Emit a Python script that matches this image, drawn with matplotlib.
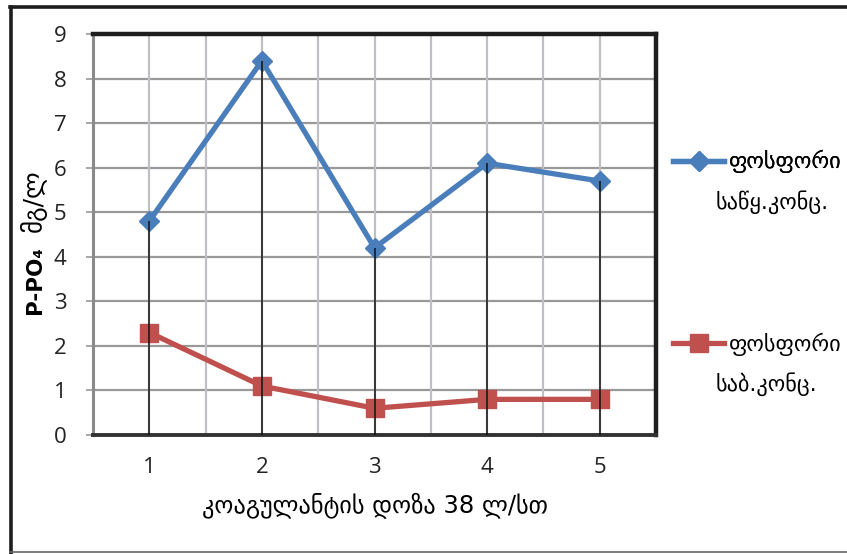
import matplotlib
matplotlib.use("Agg")
import matplotlib.pyplot as plt
from matplotlib.lines import Line2D
import numpy as np

# coagulant dose groups and phosphate concentrations (mg/l)
doses = [1, 2, 3, 4, 5]
initial_conc = [4.8, 8.4, 4.2, 6.1, 5.7]
final_conc = [2.3, 1.1, 0.6, 0.8, 0.8]

blue = "#4A7EBB"
red = "#C0504D"

plt.rcParams['font.family'] = ['DejaVu Sans']

fig = plt.figure(figsize=(8.47, 5.54), dpi=100)
ax = fig.add_axes([0.1098, 0.2148, 0.6647, 0.7238])

# grid: horizontal every 1, vertical every half category
for yv in range(0, 10):
    ax.axhline(yv, color="#999999", lw=1.6, zorder=0)
for xv in np.arange(0.5, 5.51, 0.5):
    ax.axvline(xv, color="#C0C0C4", lw=1.6, zorder=0)

ax.plot(doses, initial_conc, color=blue, lw=3.8, marker="D", ms=10, zorder=3)
ax.plot(doses, final_conc, color=red, lw=3.8, marker="s", ms=13, zorder=3)

# drop lines from the higher series to the axis
ax.vlines(doses, 0, initial_conc, color="#111111", lw=1.1, zorder=4)

ax.set_xlim(0.5, 5.5)
ax.set_ylim(0, 9)
ax.set_xticks(doses)
ax.set_yticks(range(0, 10))
ax.tick_params(axis="x", length=0, pad=16, labelsize=16, colors="#222222")
ax.tick_params(axis="y", length=5, width=1.2, color="#999999", pad=14, labelsize=16,
               labelcolor="#222222")
for lab in ax.get_xticklabels() + ax.get_yticklabels():
    lab.set_fontfamily(["Open Sans", "DejaVu Sans"])

ax.spines["top"].set_color("#1e1e1e")
ax.spines["top"].set_linewidth(3.2)
ax.spines["right"].set_color("#1e1e1e")
ax.spines["right"].set_linewidth(3.2)
ax.spines["bottom"].set_color("#333333")
ax.spines["bottom"].set_linewidth(2.8)
ax.spines["left"].set_color("#8a8a8a")
ax.spines["left"].set_linewidth(2.2)

ax.set_xlabel("კოაგულანტის დოზა 38 ლ/სთ", fontsize=17.5, labelpad=10)

# y label: bold chemical part, plain units
fig.text(0.041, 0.494, "P-PO₄", rotation=90, ha="center", va="center",
         fontsize=15.5, fontweight="bold")
fig.text(0.039, 0.637, "მგ/ლ", rotation=90, ha="center", va="center", fontsize=18)

# legend entries beside the plot
h1 = Line2D([], [], color=blue, lw=3.8, marker="D", ms=10)
h2 = Line2D([], [], color=red, lw=3.8, marker="s", ms=13)
leg1 = fig.legend([h1], ["ფოსფორი"], loc="center left", bbox_to_anchor=(0.771, 0.708),
                  frameon=False, fontsize=16, handlelength=2.3, handletextpad=0.22)
fig.add_artist(leg1)
fig.legend([h2], ["ფოსფორი"], loc="center left", bbox_to_anchor=(0.771, 0.378),
           frameon=False, fontsize=16, handlelength=2.3, handletextpad=0.22)
fig.text(0.845, 0.636, "საწყ.კონც.", fontsize=16, va="center")
fig.text(0.845, 0.306, "საბ.კონც.", fontsize=16, va="center")

# outer chart frame
fig.add_artist(Line2D([0.013, 0.013], [0.002, 0.988], transform=fig.transFigure,
                      color="#1e1e1e", lw=2.6))
fig.add_artist(Line2D([0.012, 1.0], [0.988, 0.988], transform=fig.transFigure,
                      color="#1e1e1e", lw=2.6))
fig.add_artist(Line2D([0.012, 1.0], [0.003, 0.003], transform=fig.transFigure,
                      color="#666666", lw=1.2))

fig.savefig("out.png", dpi=100)
